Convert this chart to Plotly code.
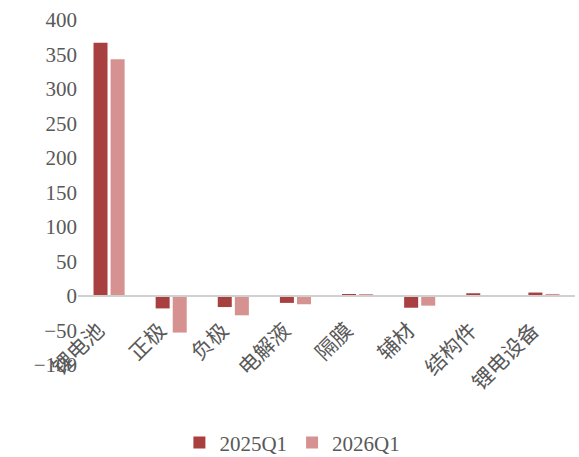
import plotly.graph_objects as go

categories = ["锂电池", "正极", "负极", "电解液", "隔膜", "辅材", "结构件", "锂电设备"]
series_names = ["2025Q1", "2026Q1"]
values_2025 = [367, -18, -16, -10, 2, -17, 4, 5]
values_2026 = [343, -53, -28, -12, 1.5, -14, 0, 3]
y_tickvals = [-100, -50, 0, 50, 100, 150, 200, 250, 300, 350, 400]

colors = ["#A8403F", "#D69290"]
font_family = "Liberation Serif, Times New Roman, Noto Sans CJK SC, serif"

fig = go.Figure()
for name, vals, col in zip(series_names, [values_2025, values_2026], colors):
    fig.add_trace(go.Bar(x=categories, y=vals, name=name, marker=dict(color=col, line=dict(width=0))))

ymin, ymax = -100, 400
zero_frac = (0 - ymin) / (ymax - ymin)

fig.update_layout(
    width=579, height=457,
    margin=dict(l=78, r=4, t=20, b=92, autoexpand=False),
    paper_bgcolor="white", plot_bgcolor="white",
    barmode="group", bargap=0.45, bargroupgap=0.18,
    font=dict(family=font_family, size=20, color="#595959"),
    showlegend=True,
    legend=dict(orientation="h", x=0.505, xanchor="center", xref="container",
                y=0.031, yanchor="middle", yref="container",
                font=dict(size=21, color="#595959"), itemwidth=30, traceorder="normal"),
    xaxis=dict(
        type="category", tickangle=-45, showgrid=False, showline=True,
        linecolor="#D0D0D0", linewidth=1.5, ticks="", anchor="free", position=zero_frac,
        tickfont=dict(size=21, color="#595959"), automargin=False,
        ticklabelstandoff=13, ticklabelshift=-11,
    ),
    yaxis=dict(
        range=[ymin, ymax], tickvals=y_tickvals, showgrid=False, zeroline=False,
        showline=False, ticks="", tickfont=dict(size=21, color="#595959"), automargin=False,
    ),
)

fig.write_html("out.html")
